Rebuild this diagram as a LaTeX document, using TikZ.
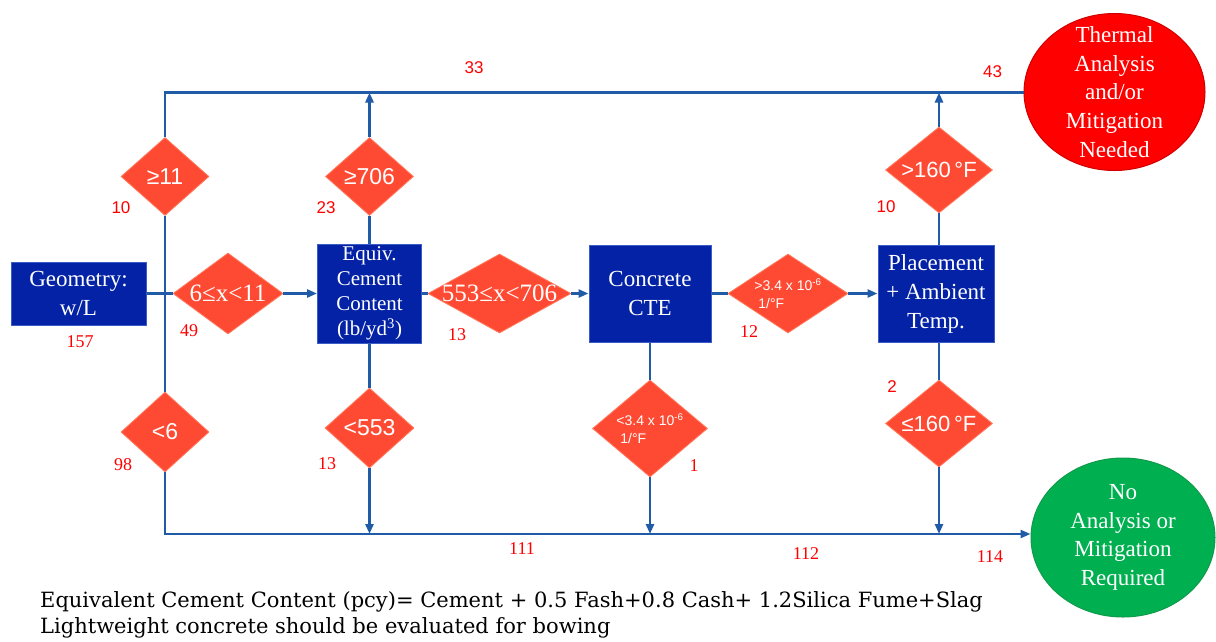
\documentclass[tikz,border=0pt]{standalone}
\usepackage{fontspec}
\setmainfont{Liberation Serif}
\newfontfamily\lsans{Liberation Sans}
\newfontfamily\footfont{DejaVu Serif}
\usetikzlibrary{shapes.geometric,arrows.meta}
\definecolor{boxblue}{HTML}{0422A6}
\definecolor{boxedge}{HTML}{3A5CC4}
\definecolor{dorange}{HTML}{FF4A33}
\definecolor{dedge}{HTML}{FF7A5E}
\definecolor{lineblue}{HTML}{1F5BA6}
\definecolor{redell}{HTML}{FF0000}
\definecolor{rededge}{HTML}{D00000}
\definecolor{greenell}{HTML}{00B050}
\definecolor{greenedge}{HTML}{109A4A}
\definecolor{numred}{HTML}{FF0000}
\tikzset{
  blbox/.style={rectangle, fill=boxblue, draw=boxedge, line width=1, text=white, align=center, inner sep=0, font=\fontsize{23}{29}\selectfont},
  dia/.style={diamond, fill=dorange, draw=dedge, line width=0.8, inner sep=0},
  dtxt/.style={text=white, align=center, inner sep=0},
  dserif/.style={dtxt, font=\fontsize{25}{28}\selectfont},
  dsans/.style={dtxt, font=\lsans\fontsize{23}{28}\selectfont},
  dsmall/.style={dtxt, align=left, font=\lsans\fontsize{14}{18}\selectfont},
  ell/.style={ellipse, inner sep=0, line width=1},
  etxt/.style={text=white, align=center, inner sep=0, font=\fontsize{23}{28.8}\selectfont},
  conn/.style={draw=lineblue, line width=2.6},
  arr/.style={conn, -{Triangle[length=10pt,width=8pt]}},
  numserif/.style={text=numred, inner sep=0, font=\fontsize{18}{20}\selectfont},
  numsans/.style={text=numred, inner sep=0, font=\lsans\fontsize{17}{20}\selectfont},
  foot/.style={anchor=west, inner sep=0, font=\footfont\fontsize{21}{24}\selectfont}
}
\begin{document}
\begin{tikzpicture}[x=1pt,y=-1pt]
\useasboundingbox (0,0) rectangle (1216,641);
% boxes
\node[blbox, minimum width=135, minimum height=63] (geo) at (78.5,293.5) {Geometry:\\w/L};
\node[blbox, minimum width=104, minimum height=99,
  label={[etxt, text=white, font=\fontsize{21}{25}\selectfont]center:{Equiv.\\Cement\\Content\\(lb/yd\textsuperscript{3})}}] (eq) at (369.5,293.5) {};
\node[blbox, minimum width=122, minimum height=97] (cte) at (650,293.5) {Concrete\\CTE};
\node[blbox, minimum width=116, minimum height=97] (pl) at (936,293.5) {Placement\\+ Ambient\\Temp.};
% diamonds
\node[dia, minimum width=110, minimum height=81, label={[dserif]center:6≤x<11}] (d1) at (228,293.5) {};
\node[dia, minimum width=88, minimum height=78, label={[dsans]center:≥11}] (dge11) at (165,176.5) {};
\node[dia, minimum width=88, minimum height=80, label={[dsans]center:<6}] (dlt6) at (165,432) {};
\node[dia, minimum width=88, minimum height=78, label={[dsans]center:≥706}] (dge706) at (369.5,176.5) {};
\node[dia, minimum width=89, minimum height=80, label={[dsans]center:<553}] (dlt553) at (369.5,428) {};
\node[dia, minimum width=143, minimum height=79, label={[dserif]center:553≤x<706}] (d2) at (499.5,293.5) {};
\node[dia, minimum width=120, minimum height=79, label={[dsmall]center:{>3.4 x 10\textsuperscript{-6}\\\hspace*{4pt}1/°F}}] (d3) at (788,293.5) {};
\node[dia, minimum width=115, minimum height=97, label={[dsmall]center:{<3.4 x 10\textsuperscript{-6}\\\hspace*{4pt}1/°F}}] (dcte) at (650,428.5) {};
\node[dia, minimum width=107, minimum height=86, label={[dsans, font=\lsans\fontsize{22}{26}\selectfont]center:>160\,°F}] (d160) at (939,170) {};
\node[dia, minimum width=107, minimum height=87, label={[dsans, font=\lsans\fontsize{22}{26}\selectfont]center:≤160\,°F}] (dle160) at (939,423.5) {};
% ellipses
\node[ell, fill=redell, draw=rededge, minimum width=181, minimum height=157,
  label={[etxt]center:{Thermal\\Analysis\\and/or\\Mitigation\\Needed}}] (red) at (1114.5,92) {};
\node[ell, fill=greenell, draw=greenedge, minimum width=184, minimum height=159,
  label={[etxt]center:{No\\Analysis or\\Mitigation\\Required}}] (green) at (1123,537.5) {};
% coordinates
\coordinate (top) at (165,92.5);
\coordinate (bot) at (165,534);
% connectors
\draw[conn] (geo.east) -- (d1.west);
\draw[arr] (d1.east) -- (eq.west);
\draw[conn] (dge11.north) -- (top) -- (top -| red.west);
\draw[conn] (dge11.south) -- (dlt6.north);
\draw[arr] (dlt6.south) -- (bot) -- (bot -| green.west);
\draw[conn] (eq.north) -- (dge706.south);
\draw[arr] (dge706.north) -- (dge706.north |- top);
\draw[conn] (eq.south) -- (dlt553.north);
\draw[arr] (dlt553.south) -- (dlt553.south |- bot);
\draw[conn] (eq.east) -- (d2.west);
\draw[arr] (d2.east) -- (cte.west);
\draw[conn] (cte.east) -- (d3.west);
\draw[arr] (d3.east) -- (pl.west);
\draw[conn] (cte.south) -- (dcte.north);
\draw[arr] (dcte.south) -- (dcte.south |- bot);
\draw[conn] (d160.south |- pl.north) -- (d160.south);
\draw[arr] (d160.north) -- (d160.north |- top);
\draw[conn] (dle160.north |- pl.south) -- (dle160.north);
\draw[arr] (dle160.south) -- (dle160.south |- bot);
% counts
\node[numserif] (n157) at (80,342) {157};
\node[numserif] (n49) at (189,331) {49};
\node[numsans] (n10a) at (121,208) {10};
\node[numserif] (n98) at (123,465) {98};
\node[numsans] (n23) at (326,208) {23};
\node[numserif] (n13b) at (327,464) {13};
\node[numsans] (n33) at (474,68) {33};
\node[numserif] (n13a) at (457,335) {13};
\node[numserif] (n12) at (749,332) {12};
\node[numserif] (n1) at (694,466) {1};
\node[numsans] (n43) at (992.5,72) {43};
\node[numsans] (n10b) at (886,207) {10};
\node[numsans] (n2) at (892,387) {2};
\node[numserif] (n111) at (522,549) {111};
\node[numserif] (n112) at (806,554) {112};
\node[numserif] (n114) at (990,557) {114};
% footnotes
\node[foot] (f1) at (40,602) {Equivalent Cement Content (pcy)= Cement + 0.5 Fash+0.8 Cash+ 1.2Silica Fume+Slag};
\node[foot] (f2) at (40,628) {Lightweight concrete should be evaluated for bowing};
\end{tikzpicture}
\end{document}
